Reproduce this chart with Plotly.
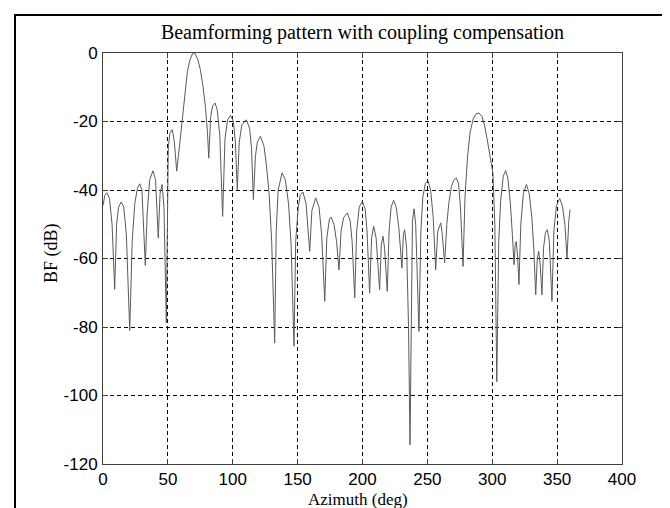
import plotly.graph_objects as go

# Azimuth (deg) sample positions
azimuth_deg = [
    0, 1.5, 3, 5, 7, 9, 10.5, 12, 14, 16, 18, 20.6, 22.5, 24.5, 26.5, 28.3, 30, 32.6, 34, 36,
    38.5, 40.5, 42.6, 44, 45.5, 47, 48.8, 50.3, 51.5, 53.4, 55, 56.8, 59, 61, 63, 65, 67, 69, 70,
    71, 73, 75, 77, 79, 80.5, 81.5, 83, 84.5, 86.3, 88, 90, 92.2, 94, 96, 98.4, 100.5, 102, 103.5,
    105, 107, 110.5, 113, 114.5, 115.9, 117.5, 119, 121.3, 124, 126, 128, 130, 132.3, 133.5, 135,
    138, 140.5, 143, 145, 147.2, 148.5, 150.5, 152, 154.1, 156.5, 159.3, 161, 163.9, 166.5, 168.5,
    170.9, 172.5, 174.5, 175.8, 178, 180, 181.9, 183.5, 185.5, 188.3, 190.5, 192, 194, 195.5,
    197.5, 199.9, 202, 203.5, 205.5, 207, 208.6, 210.5, 213.2, 214.5, 215.8, 217, 219.1, 220.5,
    222, 224, 226, 228, 230.4, 231.5, 232.5, 234, 235.5, 236.6, 237.5, 238.5, 239.7, 241, 243.5,
    245, 246.5, 248.5, 250.5, 252.5, 254.5, 256.4, 258, 260.3, 261.5, 263.3, 265, 266.5, 268.5,
    270.5, 272.3, 274, 275.5, 277.5, 279, 281, 283, 285.5, 287.5, 289.8, 292, 294, 296, 298,
    299.5, 300.5, 302, 303.5, 305, 306.5, 308.5, 310.3, 312, 314, 315.5, 316.8, 317.7, 318.6,
    319.6, 320.6, 322, 324, 326.3, 328.5, 330.5, 332, 333.5, 334.7, 335.8, 337, 338.3, 339.5,
    341, 342.5, 344, 346, 347.5, 349.5, 352, 354, 356, 357.6, 359, 360,
]

# Beamforming response (dB)
bf_db = [
    -44.5, -41.5, -40.8, -42.5, -50, -69, -50, -45, -43.5, -45, -53, -81, -55, -44, -39.5, -38.2, -40, -62, -47, -37,
    -34.4, -37, -54, -41, -38.4, -45, -78.8, -28, -23.5, -22.4, -26, -34.5, -27, -19.5, -11, -5.5, -2, -0.2, 0,
    -0.2, -1.8, -4.8, -9.5, -16, -23, -30.7, -18.5, -15.5, -14.6, -16.5, -24, -47.7, -25, -19.5, -18.2, -20, -26, -39.9,
    -26, -21, -19.5, -22, -28, -42.8, -30, -26, -24.3, -27, -33, -41, -55, -84.7, -52, -40,
    -35, -37, -44, -56, -85.6, -55, -45, -41.5, -40.6, -44, -57.9, -46, -42.3, -45, -53,
    -72.5, -54, -48.5, -47.9, -50, -55, -63.3, -52, -48, -46.7, -49, -55, -71.5, -52,
    -45, -43.3, -45.5, -52, -70.1, -54, -50.6, -54, -69.1, -56, -53.5, -57, -69.6, -52,
    -45, -43, -45, -51, -62.8, -53, -51.6, -57, -80, -114.4, -70, -49, -45.5, -50, -81.3,
    -52, -42, -38, -37.3, -40, -48, -63.3, -52, -49.6, -53, -61.3, -50, -44, -39,
    -37, -36.5, -38, -45, -62.3, -42, -30, -23, -19, -17.8, -17.5, -18.5, -21, -25, -30,
    -33, -35, -50, -96, -55, -43, -36, -34.3, -36.5, -44, -53, -61.8, -56, -55,
    -60, -67.6, -50, -41, -38.4, -41, -48, -57, -70.6, -60, -57.9, -62, -70.6, -57,
    -52.5, -51.6, -55, -72.5, -52, -44.5, -42.5, -44.5, -50, -59.9, -49, -45.7,
]

x_ticks = [0, 50, 100, 150, 200, 250, 300, 350, 400]
y_ticks = [-120, -100, -80, -60, -40, -20, 0]

title_text = "Beamforming pattern with coupling compensation"
x_label = "Azimuth (deg)"
y_label = "BF (dB)"

W, H = 670, 508
L, R, T, B = 95, 56, 45, 52
pw, ph = W - L - R, H - T - B

serif = "Liberation Serif, Times New Roman, serif"
tickfont = dict(family="Liberation Sans Narrow, Arial Narrow, sans-serif", size=17, color="#000")

fig = go.Figure()
fig.add_trace(go.Scatter(x=azimuth_deg, y=bf_db, mode="lines",
                         line=dict(color="#5a5a5a", width=1), showlegend=False,
                         hoverinfo="skip"))

axis_common = dict(
    showgrid=True, gridcolor="#000000", gridwidth=1, griddash="4px,3px",
    zeroline=False, showline=True, linecolor="#404040", linewidth=1, mirror="ticks",
    ticks="inside", ticklen=5, tickcolor="#404040", tickfont=tickfont,
)

fig.update_layout(
    width=W, height=H,
    margin=dict(l=L, r=R, t=T, b=B),
    paper_bgcolor="white", plot_bgcolor="white",
    title=dict(text=title_text, x=(L + pw / 2) / W, xanchor="center",
               y=1 - 24 / H, yanchor="middle", yref="container",
               font=dict(family=serif, size=20, color="#000")),
    xaxis=dict(range=[0, 400], tickvals=x_ticks, ticktext=[str(v) for v in x_ticks],
               ticklabelstandoff=0, **axis_common),
    yaxis=dict(range=[-120, 0], tickvals=y_ticks, ticktext=[str(v) for v in y_ticks],
               ticklabelstandoff=1, **axis_common),
    annotations=[
        dict(text=x_label, xref="paper", yref="paper",
             x=(350 - L) / pw, y=-(491 - (T + ph)) / ph, xanchor="center", yanchor="middle",
             showarrow=False, font=dict(family=serif, size=17, color="#000")),
        dict(text=y_label, xref="paper", yref="paper", textangle=-90,
             x=(43 - L) / pw, y=1 - (245 - T) / ph, xanchor="center", yanchor="middle",
             showarrow=False, font=dict(family=serif, size=18, color="#000")),
    ],
    shapes=[
        dict(type="line", xref="paper", yref="paper",
             x0=(7 - L) / pw, x1=(7 - L) / pw, y0=-0.3, y1=1 + (T - 6) / ph,
             line=dict(color="#000", width=2)),
        dict(type="line", xref="paper", yref="paper",
             x0=(6 - L) / pw, x1=(W + 20 - L) / pw, y0=1 + (T - 7) / ph, y1=1 + (T - 7) / ph,
             line=dict(color="#000", width=2)),
    ],
)

fig.write_html("out.html")
